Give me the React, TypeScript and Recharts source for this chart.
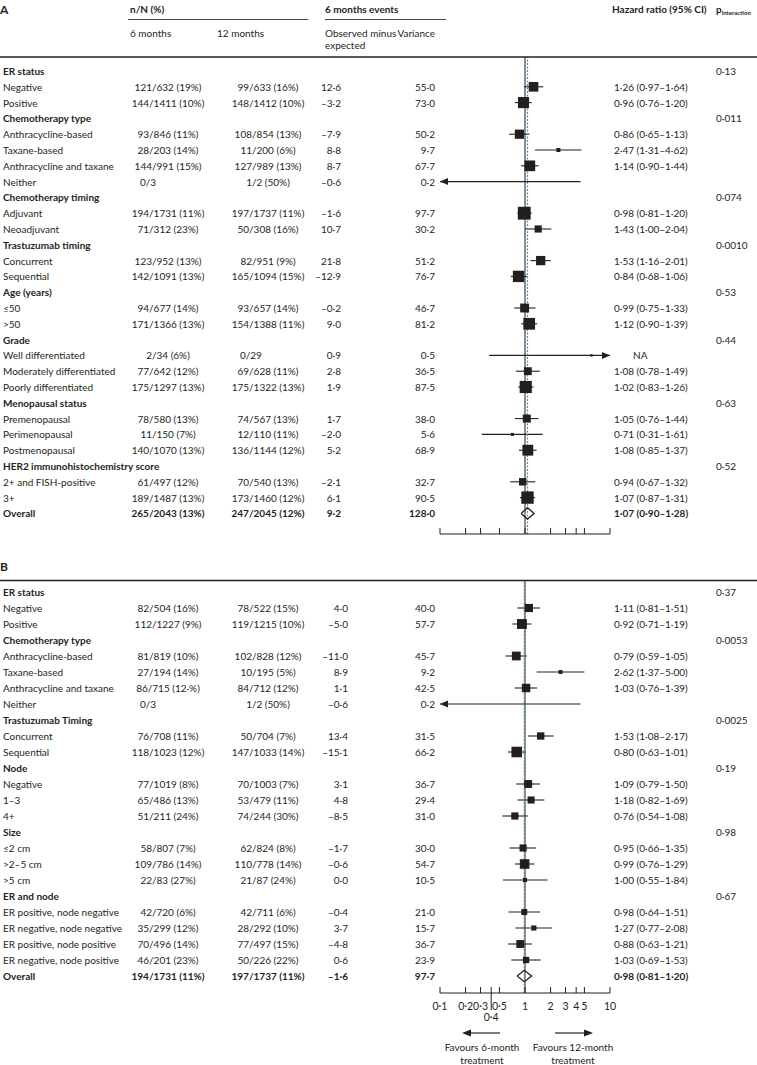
import React from 'react';
import { ComposedChart, XAxis, YAxis, Scatter, ReferenceLine } from 'recharts';

const INK = '#231f20';
const TEAL = '#5b90ab';
const FONT = 'Lato, "Open Sans", sans-serif';

// ---- Panel A ----
const labelsA = ['ER status', 'Negative', 'Positive', 'Chemotherapy type', 'Anthracycline-based', 'Taxane-based', 'Anthracycline and taxane', 'Neither', 'Chemotherapy timing', 'Adjuvant', 'Neoadjuvant', 'Trastuzumab timing', 'Concurrent', 'Sequential', 'Age (years)', '≤50', '>50', 'Grade', 'Well differentiated', 'Moderately differentiated', 'Poorly differentiated', 'Menopausal status', 'Premenopausal', 'Perimenopausal', 'Postmenopausal', 'HER2 immunohistochemistry score', '2+ and FISH-positive', '3+', 'Overall'];
const sixA = [null, '121/632 (19%)', '144/1411 (10%)', null, '93/846 (11%)', '28/203 (14%)', '144/991 (15%)', '0/3', null, '194/1731 (11%)', '71/312 (23%)', null, '123/952 (13%)', '142/1091 (13%)', null, '94/677 (14%)', '171/1366 (13%)', null, '2/34 (6%)', '77/642 (12%)', '175/1297 (13%)', null, '78/580 (13%)', '11/150 (7%)', '140/1070 (13%)', null, '61/497 (12%)', '189/1487 (13%)', '265/2043 (13%)'];
const twelveA = [null, '99/633 (16%)', '148/1412 (10%)', null, '108/854 (13%)', '11/200 (6%)', '127/989 (13%)', '1/2 (50%)', null, '197/1737 (11%)', '50/308 (16%)', null, '82/951 (9%)', '165/1094 (15%)', null, '93/657 (14%)', '154/1388 (11%)', null, '0/29', '69/628 (11%)', '175/1322 (13%)', null, '74/567 (13%)', '12/110 (11%)', '136/1144 (12%)', null, '70/540 (13%)', '173/1460 (12%)', '247/2045 (12%)'];
const oeA = [null, 12.6, -3.2, null, -7.9, 8.8, 8.7, -0.6, null, -1.6, 10.7, null, 21.8, -12.9, null, -0.2, 9.0, null, 0.9, 2.8, 1.9, null, 1.7, -2.0, 5.2, null, -2.1, 6.1, 9.2];
const varA = [null, 55.0, 73.0, null, 50.2, 9.7, 67.7, 0.2, null, 97.7, 30.2, null, 51.2, 76.7, null, 46.7, 81.2, null, 0.5, 36.5, 87.5, null, 38.0, 5.6, 68.9, null, 32.7, 90.5, 128.0];
const hrA = [null, 1.26, 0.96, null, 0.86, 2.47, 1.14, null, null, 0.98, 1.43, null, 1.53, 0.84, null, 0.99, 1.12, null, 6.05, 1.08, 1.02, null, 1.05, 0.71, 1.08, null, 0.94, 1.07, 1.07];
const loA = [null, 0.97, 0.76, null, 0.65, 1.31, 0.90, null, null, 0.81, 1.00, null, 1.16, 0.68, null, 0.75, 0.90, null, 0.38, 0.78, 0.83, null, 0.76, 0.31, 0.85, null, 0.67, 0.87, 0.90];
const hiA = [null, 1.64, 1.20, null, 1.13, 4.62, 1.44, 4.5, null, 1.20, 2.04, null, 2.01, 1.06, null, 1.33, 1.39, null, null, 1.49, 1.26, null, 1.44, 1.61, 1.37, null, 1.32, 1.31, 1.28];
const pA = ['0·13', null, null, '0·011', null, null, null, null, '0·074', null, null, '0·0010', null, null, '0·53', null, null, '0·44', null, null, null, '0·63', null, null, null, '0·52', null, null, null];

// ---- Panel B ----
const labelsB = ['ER status', 'Negative', 'Positive', 'Chemotherapy type', 'Anthracycline-based', 'Taxane-based', 'Anthracycline and taxane', 'Neither', 'Trastuzumab Timing', 'Concurrent', 'Sequential', 'Node', 'Negative', '1–3', '4+', 'Size', '≤2 cm', '>2–5 cm', '>5 cm', 'ER and node', 'ER positive, node negative', 'ER negative, node negative', 'ER positive, node positive', 'ER negative, node positive', 'Overall'];
const sixB = [null, '82/504 (16%)', '112/1227 (9%)', null, '81/819 (10%)', '27/194 (14%)', '86/715 (12·%)', '0/3', null, '76/708 (11%)', '118/1023 (12%)', null, '77/1019 (8%)', '65/486 (13%)', '51/211 (24%)', null, '58/807 (7%)', '109/786 (14%)', '22/83 (27%)', null, '42/720 (6%)', '35/299 (12%)', '70/496 (14%)', '46/201 (23%)', '194/1731 (11%)'];
const twelveB = [null, '78/522 (15%)', '119/1215 (10%)', null, '102/828 (12%)', '10/195 (5%)', '84/712 (12%)', '1/2 (50%)', null, '50/704 (7%)', '147/1033 (14%)', null, '70/1003 (7%)', '53/479 (11%)', '74/244 (30%)', null, '62/824 (8%)', '110/778 (14%)', '21/87 (24%)', null, '42/711 (6%)', '28/292 (10%)', '77/497 (15%)', '50/226 (22%)', '197/1737 (11%)'];
const oeB = [null, 4.0, -5.0, null, -11.0, 8.9, 1.1, -0.6, null, 13.4, -15.1, null, 3.1, 4.8, -8.5, null, -1.7, -0.6, 0.0, null, -0.4, 3.7, -4.8, 0.6, -1.6];
const varB = [null, 40.0, 57.7, null, 45.7, 9.2, 42.5, 0.2, null, 31.5, 66.2, null, 36.7, 29.4, 31.0, null, 30.0, 54.7, 10.5, null, 21.0, 15.7, 36.7, 23.9, 97.7];
const hrB = [null, 1.11, 0.92, null, 0.79, 2.62, 1.03, null, null, 1.53, 0.80, null, 1.09, 1.18, 0.76, null, 0.95, 0.99, 1.00, null, 0.98, 1.27, 0.88, 1.03, 0.98];
const loB = [null, 0.81, 0.71, null, 0.59, 1.37, 0.76, null, null, 1.08, 0.63, null, 0.79, 0.82, 0.54, null, 0.66, 0.76, 0.55, null, 0.64, 0.77, 0.63, 0.69, 0.81];
const hiB = [null, 1.51, 1.19, null, 1.05, 5.00, 1.39, 4.5, null, 2.17, 1.01, null, 1.50, 1.69, 1.08, null, 1.35, 1.29, 1.84, null, 1.51, 2.08, 1.21, 1.53, 1.20];
const pB = ['0·37', null, null, '0·0053', null, null, null, null, '0·0025', null, null, '0·19', null, null, null, '0·98', null, null, null, '0·67', null, null, null, null, null];

const ticksA = [0.1, 0.2, 0.3, 0.5, 1, 2, 3, 4, 5, 10];
const ticksB = [0.1, 0.2, 0.3, 0.4, 0.5, 1, 2, 3, 4, 5, 10];

const dot = (s: string) => s.replace('.', '·');
const f1 = (v: number) => (v < 0 ? '–' : '') + dot(Math.abs(v).toFixed(1));
const f2 = (v: number) => dot(v.toFixed(2));

type PanelData = {
  labels: string[]; six: (string | null)[]; twelve: (string | null)[];
  oe: (number | null)[]; vr: (number | null)[];
  hr: (number | null)[]; lo: (number | null)[]; hi: (number | null)[];
  p: (string | null)[];
};

const panelA: PanelData = { labels: labelsA, six: sixA, twelve: twelveA, oe: oeA, vr: varA, hr: hrA, lo: loA, hi: hiA, p: pA };
const panelB: PanelData = { labels: labelsB, six: sixB, twelve: twelveB, oe: oeB, vr: varB, hr: hrB, lo: loB, hi: hiB, p: pB };

const txt = { fontFamily: FONT, fontSize: 10, fill: INK } as const;

// column positions for the table text
const SIX_X = 168;
const TWELVE_X = 268;
const VAR_X = 435;
const HR_X = 614;
const P_X = 716;

function ciShape(leftArrow: boolean, rightArrow: boolean) {
  return (props: any) => {
    const { x1, y1, x2, y2 } = props;
    return (
      <g>
        <line x1={x1} y1={y1} x2={x2} y2={y2} stroke={INK} strokeWidth={1.1} />
        {leftArrow && <path d={`M${x1},${y1} l8,-3.5 v7 z`} fill={INK} />}
        {rightArrow && <path d={`M${x2},${y2} l-8,-3.5 v7 z`} fill={INK} />}
      </g>
    );
  };
}

const square = (props: any) => {
  const { cx, cy, payload } = props;
  const s = Math.max(2.4, 1.3 * Math.sqrt(payload.v));
  return <rect x={cx - s / 2} y={cy - s / 2} width={s} height={s} fill={INK} />;
};

function ForestPanel({ d, height, margin, domain, oeX, xh, ticks, axisTick }: any) {
  const n = d.labels.length;
  const last = n - 1;
  const idx = d.labels.map((_: string, i: number) => i);
  const points = idx
    .filter((i: number) => i !== last && d.hr[i] != null)
    .map((i: number) => ({ hr: d.hr[i], row: i, v: d.vr[i] }));
  const diamond = [
    { hr: d.lo[last], row: last },
    { hr: d.hr[last], row: last - 0.36 },
    { hr: d.hi[last], row: last },
    { hr: d.hr[last], row: last + 0.36 },
    { hr: d.lo[last], row: last },
  ];
  const ciRows = idx.filter((i: number) => i !== last && d.p[i] == null && (d.lo[i] != null || d.hi[i] != null));

  const rowTick = (props: any) => {
    const i = props.payload.value;
    const y = props.y;
    const bold = d.p[i] != null || i === last;
    const w = bold ? 700 : 400;
    const six = d.six[i];
    const twelve = d.twelve[i];
    let hrText = '';
    if (d.hr[i] != null && d.lo[i] != null && d.hi[i] != null) hrText = `${f2(d.hr[i])} (${f2(d.lo[i])}–${f2(d.hi[i])})`;
    else if (d.hr[i] != null) hrText = 'NA';
    const vw = i === last ? 700 : 400;
    return (
      <g>
        <text x={3} y={y} dominantBaseline="central" {...txt} fontWeight={w}>{d.labels[i]}</text>
        {six && (
          <text x={six.includes('(') ? SIX_X : SIX_X - 28} y={y} dominantBaseline="central" textAnchor={six.includes('(') ? 'middle' : 'start'} {...txt} fontWeight={vw}>{six}</text>
        )}
        {twelve && (
          <text x={twelve.includes('(') ? TWELVE_X : TWELVE_X - 28} y={y} dominantBaseline="central" textAnchor={twelve.includes('(') ? 'middle' : 'start'} {...txt} fontWeight={vw}>{twelve}</text>
        )}
        {d.oe[i] != null && (
          <text x={oeX} y={y} dominantBaseline="central" textAnchor="end" {...txt} fontWeight={vw}>{f1(d.oe[i])}</text>
        )}
        {d.vr[i] != null && (
          <text x={VAR_X} y={y} dominantBaseline="central" textAnchor="end" {...txt} fontWeight={vw}>{f1(d.vr[i])}</text>
        )}
        {hrText && (
          <text x={hrText === 'NA' ? HR_X + 19 : HR_X} y={y} dominantBaseline="central" {...txt} fontWeight={vw}>{hrText}</text>
        )}
        {d.p[i] && (
          <text x={P_X} y={y} dominantBaseline="central" {...txt}>{d.p[i]}</text>
        )}
      </g>
    );
  };

  return (
    <ComposedChart width={757} height={height} margin={margin}>
      <XAxis
        type="number"
        dataKey="hr"
        scale="log"
        domain={[0.1, 10]}
        allowDataOverflow
        ticks={ticks}
        interval={0}
        tick={axisTick}
        tickLine={false}
        tickSize={0}
        tickMargin={0}
        height={xh}
        axisLine={{ stroke: INK, strokeWidth: 1 }}
      />
      <YAxis
        type="number"
        dataKey="row"
        domain={domain}
        allowDataOverflow
        reversed
        ticks={idx}
        interval={0}
        tick={rowTick}
        axisLine={false}
        tickLine={false}
        width={60}
      />
      <ReferenceLine x={1} stroke={INK} strokeWidth={1} />
      {ciRows.map((i: number) => (
        <ReferenceLine
          key={i}
          ifOverflow="visible"
          segment={[
            { x: d.lo[i] ?? 0.1, y: i },
            { x: d.hi[i] ?? 10, y: i },
          ]}
          shape={ciShape(d.lo[i] == null, d.hi[i] == null)}
        />
      ))}
      <Scatter data={points} shape={square} isAnimationActive={false} />
      <Scatter
        data={diamond}
        line={{ stroke: INK, strokeWidth: 1.3 }}
        shape={() => <g />}
        isAnimationActive={false}
      />
      <ReferenceLine x={d.hr[last]} stroke={TEAL} strokeWidth={1.2} strokeDasharray="2 1.5" />
    </ComposedChart>
  );
}

const tickA = (props: any) => {
  const { x, y } = props;
  return <line x1={x} x2={x} y1={y} y2={y - 6} stroke={INK} strokeWidth={1} />;
};

const tickB = (props: any) => {
  const { x, y, payload } = props;
  const long = payload.value === 0.4;
  return (
    <g>
      <line x1={x} x2={x} y1={y - 6} y2={long ? y + 17 : y} stroke={INK} strokeWidth={1} />
      <text x={x} y={long ? y + 24 : y + 13} textAnchor="middle" dominantBaseline="central" {...txt} fontSize={10.5}>
        {dot(String(payload.value))}
      </text>
    </g>
  );
};

export default function App() {
  return (
    <div style={{ position: 'relative', width: 757, height: 1065, background: '#fff' }}>
      <style>{'body{margin:0}'}</style>
      <div style={{ position: 'absolute', left: 0, top: 0 }}>
        <ForestPanel
          d={panelA}
          height={560}
          margin={{ top: 57, right: 147, bottom: 6, left: 380 }}
          domain={[-0.886, 29.304]}
          oeX={341}
          xh={20}
          ticks={ticksA}
          axisTick={tickA}
        />
      </div>
      <div style={{ position: 'absolute', left: 0, top: 560 }}>
        <ForestPanel
          d={panelB}
          height={505}
          margin={{ top: 21, right: 147, bottom: 42, left: 380 }}
          domain={[-0.6875, 25.0625]}
          oeX={348}
          xh={30}
          ticks={ticksB}
          axisTick={tickB}
        />
      </div>
      <svg width={757} height={1065} style={{ position: 'absolute', left: 0, top: 0, pointerEvents: 'none' }}>
        <g {...txt}>
          <text x={0} y={9} dominantBaseline="central" fontSize={12} fontWeight={700}>A</text>
          <text x={130} y={9} dominantBaseline="central" fontWeight={700}>n/N (%)</text>
          <text x={325} y={9} dominantBaseline="central" fontWeight={700}>6 months events</text>
          <text x={HR_X - 2} y={9} dominantBaseline="central" fontWeight={700}>Hazard ratio (95% CI)</text>
          <text x={P_X} y={9} dominantBaseline="central" fontWeight={700}>
            p<tspan fontSize={6} dy={3}>interaction</tspan>
          </text>
          <text x={130} y={33} dominantBaseline="central">6 months</text>
          <text x={217} y={33} dominantBaseline="central">12 months</text>
          <text x={325} y={33} dominantBaseline="central">Observed minus</text>
          <text x={325} y={45} dominantBaseline="central">expected</text>
          <text x={VAR_X} y={33} dominantBaseline="central" textAnchor="end">Variance</text>
          <text x={0} y={566} dominantBaseline="central" fontSize={12} fontWeight={700}>B</text>
          <text x={482} y={1047} dominantBaseline="central" textAnchor="middle">Favours 6-month</text>
          <text x={482} y={1060} dominantBaseline="central" textAnchor="middle">treatment</text>
          <text x={573} y={1047} dominantBaseline="central" textAnchor="middle">Favours 12-month</text>
          <text x={573} y={1060} dominantBaseline="central" textAnchor="middle">treatment</text>
        </g>
        <line x1={128} x2={308} y1={19.5} y2={19.5} stroke="#444" strokeWidth={1.2} />
        <line x1={325} x2={446} y1={19.5} y2={19.5} stroke="#444" strokeWidth={1.2} />
        <line x1={0} x2={757} y1={57} y2={57} stroke={INK} strokeWidth={1.6} />
        <line x1={0} x2={757} y1={580.5} y2={580.5} stroke={INK} strokeWidth={1.6} />
        <line x1={470} x2={500} y1={1033} y2={1033} stroke={INK} strokeWidth={1.2} />
        <path d="M462,1033 l9,-3.5 v7 z" fill={INK} />
        <line x1={555} x2={585} y1={1033} y2={1033} stroke={INK} strokeWidth={1.2} />
        <path d="M593,1033 l-9,-3.5 v7 z" fill={INK} />
      </svg>
    </div>
  );
}
